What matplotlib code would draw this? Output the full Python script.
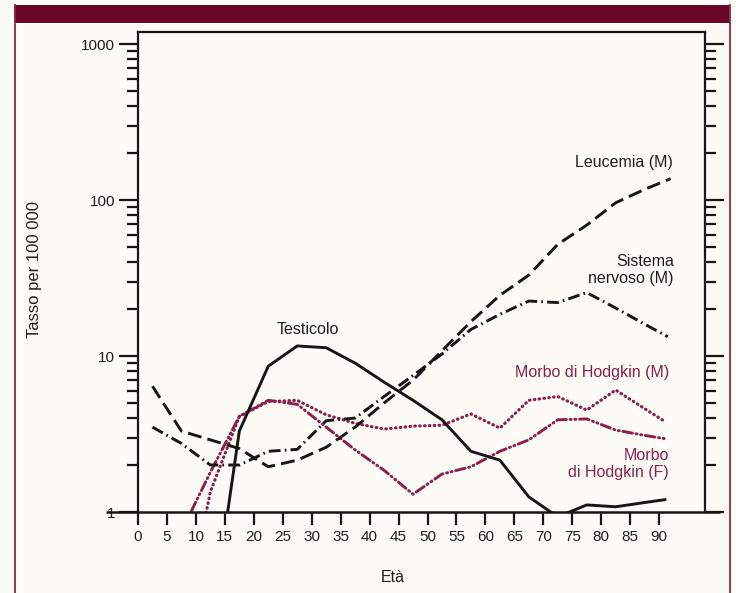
import matplotlib
matplotlib.use("Agg")
import matplotlib.pyplot as plt
from matplotlib.patches import Rectangle
from matplotlib.lines import Line2D
from matplotlib.ticker import FixedLocator, FixedFormatter, NullFormatter, LogLocator

plt.rcParams['font.family'] = ['Liberation Sans', 'DejaVu Sans']
plt.rcParams['lines.scale_dashes'] = False

# --- data: incidence rate per 100 000 by age ---
ages = [2.5, 7.5, 12.5, 17.5, 22.5, 27.5, 32.5, 37.5, 42.5, 47.5,
        52.5, 57.5, 62.5, 67.5, 72.5, 77.5, 82.5, 87.5, 92.0]
leucemia_m = [6.4, 3.3, 2.9, 2.55, 1.95, 2.15, 2.6, 3.5, 5.0, 7.0,
              10.8, 16.6, 24.5, 33.0, 52.0, 69.0, 96.0, 117.0, 137.0]

ages_sn = [2.5, 7.5, 12.5, 17.5, 22.5, 27.5, 32.5, 37.5, 42.5, 47.5,
           52.5, 57.5, 62.5, 67.5, 72.5, 77.5, 82.5, 87.5, 91.5]
sistema_nervoso_m = [3.5, 2.75, 2.0, 2.0, 2.45, 2.52, 3.85, 4.0, 5.5, 7.5,
                     10.3, 14.8, 18.5, 22.5, 22.0, 25.5, 20.3, 16.0, 13.3]

ages_t = [12.5, 17.5, 22.5, 27.5, 32.5, 37.5, 42.5, 47.5, 52.5, 57.5,
          62.5, 67.5, 72.5, 77.5, 82.5, 87.5, 91.0]
testicolo = [0.17, 3.3, 8.6, 11.6, 11.3, 9.0, 6.8, 5.2, 3.9, 2.45,
             2.15, 1.25, 0.93, 1.11, 1.08, 1.15, 1.2]

ages_h = [7.5, 12.5, 17.5, 22.5, 27.5, 32.5, 37.5, 42.5, 47.5, 52.5,
          57.5, 62.5, 67.5, 72.5, 77.5, 82.5, 87.5, 91.0]
hodgkin_m = [0.16, 1.35, 4.1, 5.1, 5.2, 4.2, 3.7, 3.4, 3.55, 3.6,
             4.25, 3.45, 5.2, 5.5, 4.5, 6.05, 4.6, 3.8]
hodgkin_f = [0.75, 1.8, 4.1, 5.2, 4.9, 3.5, 2.5, 1.85, 1.3, 1.75,
             1.95, 2.45, 2.9, 3.9, 3.95, 3.35, 3.1, 2.95]

x_ticks = list(range(0, 95, 5))
y_ticks = [1, 10, 100, 1000]
y_tick_labels = ["1", "10", "100", "1000"]

# --- page geometry (pixels) ---
W, H = 736, 593
def fx(px):
    return px / W
def fy(py):
    return 1 - py / H

BLACK = "#161616"
TEXT = "#1e1e1e"
MAROON = "#8c1f4b"
BAND = "#6a0626"
PAGE = "#fcfbf6"

fig = plt.figure(figsize=(W / 100, H / 100), dpi=100, facecolor=PAGE)

# page decoration: band on top and thin side rules
fig.patches.append(Rectangle((fx(14), fy(22.5)), fx(730) - fx(14), fy(5) - fy(22.5),
                             transform=fig.transFigure, facecolor=BAND, edgecolor="none"))
fig.lines.append(Line2D([fx(15), fx(15)], [fy(5), 0], transform=fig.transFigure,
                        color="#8a2a4a", lw=1.3))
fig.lines.append(Line2D([fx(730), fx(730)], [fy(5), 0], transform=fig.transFigure,
                        color="#8a2a4a", lw=1.3))

left, right, top, bottom = 138, 705, 32, 512
ax = fig.add_axes([fx(left), fy(bottom), fx(right) - fx(left), fy(top) - fy(bottom)])
ax.set_facecolor("none")
ax.set_yscale("log")
px_per_decade = 156.0
ax.set_ylim(1, 10 ** ((bottom - top) / px_per_decade))
px_per_year = 5.79
ax.set_xlim(0, (right - left) / px_per_year)

for s in ["left", "right", "top"]:
    ax.spines[s].set_linewidth(1.6)
    ax.spines[s].set_color(BLACK)
ax.spines["bottom"].set_visible(False)

# base line (y = 1) extends past both vertical axes
x0 = (106 - left) / (right - left)
x1 = (720 - left) / (right - left)
ax.plot([x0, x1], [0, 0], transform=ax.transAxes, color=BLACK, lw=1.8,
        clip_on=False, zorder=5, solid_capstyle="butt")

ax.xaxis.set_major_locator(FixedLocator(x_ticks))
ax.set_xticklabels([str(t) for t in x_ticks])
ax.tick_params(axis="x", which="major", direction="out", length=9.5, width=1.6,
               color=BLACK, labelsize=11, pad=3.5, labelcolor=TEXT)

ax.yaxis.set_major_locator(FixedLocator(y_ticks))
ax.yaxis.set_major_formatter(FixedFormatter(y_tick_labels))
ax.yaxis.set_minor_locator(LogLocator(base=10, subs=range(2, 10)))
ax.yaxis.set_minor_formatter(NullFormatter())
ax.tick_params(axis="y", which="major", direction="out", length=13.5, width=1.6,
               left=True, right=True, color=BLACK, labelsize=11, pad=3,
               labelcolor=TEXT)
ax.tick_params(axis="y", which="minor", direction="out", length=8, width=1.6,
               left=True, right=True, color=BLACK)

lw = 2.1
# Hodgkin (maroon) lines
ax.plot(ages_h, hodgkin_f, color=MAROON, lw=lw,
        dashes=(7, 2.6, 0.8, 2.6, 0.8, 2.6), dash_capstyle="round", zorder=3)
ax.plot(ages_h, hodgkin_m, color=MAROON, lw=2.3,
        dashes=(0.4, 3.1), dash_capstyle="round", zorder=3)
# black lines
ax.plot(ages, leucemia_m, color=BLACK, lw=lw, dashes=(10, 4.5), zorder=4)
ax.plot(ages_sn, sistema_nervoso_m, color=BLACK, lw=lw,
        dashes=(8.5, 3, 1.2, 3), zorder=4)
ax.plot(ages_t, testicolo, color=BLACK, lw=lw, zorder=4)

def val(py):
    return 10 ** ((bottom - py) / px_per_decade)
def age(px):
    return (px - left) / px_per_year

fs = 11.5
ax.text(age(673), val(163), "Leucemia (M)", ha="right", va="center", fontsize=fs, color=TEXT)
ax.text(age(674), val(270), "Sistema\nnervoso (M)", ha="right", va="center", fontsize=fs,
        color=TEXT, linespacing=1.25, multialignment="right")
ax.text(age(308), val(329), "Testicolo", ha="center", va="center", fontsize=fs, color=TEXT)
ax.text(age(669), val(372), "Morbo di Hodgkin (M)", ha="right", va="center", fontsize=fs, color=MAROON)
ax.text(age(669), val(464), "Morbo\ndi Hodgkin (F)", ha="right", va="center", fontsize=fs,
        color=MAROON, linespacing=1.25, multialignment="right")

fig.text(fx(35), fy(270), "Tasso per 100 000", rotation=90, ha="center", va="center",
         fontsize=12, color=TEXT)
fig.text(fx(393), fy(578), "Età", ha="center", va="center", fontsize=fs, color=TEXT)

fig.savefig("out.png", dpi=100, facecolor=PAGE)
